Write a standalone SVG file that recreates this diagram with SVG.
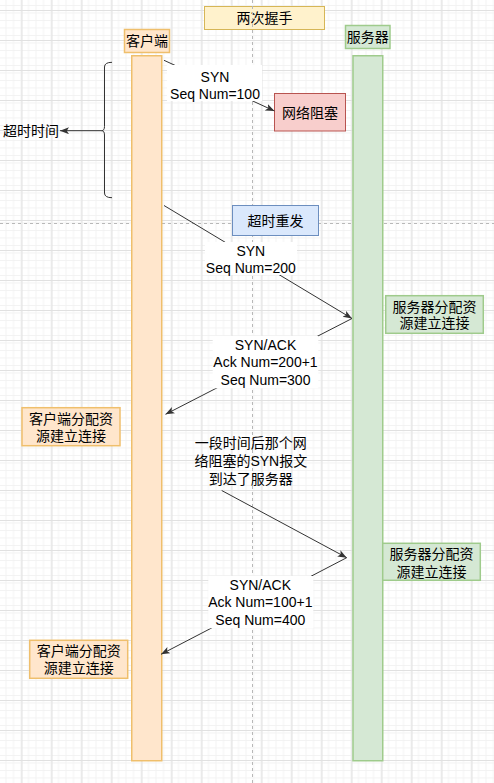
<svg xmlns="http://www.w3.org/2000/svg" width="494" height="783" viewBox="0 0 494 783">
<style>
  text { font-family: "Liberation Sans", "Noto Sans CJK SC", sans-serif; font-size: 14px; fill: #000; text-anchor: middle; dominant-baseline: central; }
  .edge { stroke: #333; stroke-width: 1; fill: none; }
  .orange { fill: #ffe6cc; stroke: #efbf6c; stroke-width: 1.5; }
  .green { fill: #d5e8d4; stroke: #9fcb8c; stroke-width: 1.5; }
  .yellow { fill: #fff2cc; stroke: #d6b656; stroke-width: 1; }
  .red { fill: #f8cecc; stroke: #b85450; stroke-width: 1; }
  .blue { fill: #dae8fc; stroke: #6c8ebf; stroke-width: 1; }
  .lbl { fill: #fff; stroke: none; }
  .page { stroke: #b8b8b8; stroke-width: 1; stroke-dasharray: 3 3; fill: none; }
</style>
<defs>
  <pattern id="minor" x="21.5" y="10" width="7.5" height="7.5" patternUnits="userSpaceOnUse">
    <path d="M0,0.5 H7.5 M0.5,0 V7.5" stroke="#f2f2f2" stroke-width="1" fill="none"/>
  </pattern>
  <pattern id="major" x="21.5" y="10" width="30" height="30" patternUnits="userSpaceOnUse">
    <rect width="30" height="30" fill="url(#minor)"/>
    <path d="M0,0.5 H30 M0.5,0 V30" stroke="#e1e1e1" stroke-width="1" fill="none"/>
  </pattern>
  <marker id="arr" markerUnits="userSpaceOnUse" markerWidth="10" markerHeight="8" refX="9" refY="3.5" orient="auto">
    <path d="M0,0 L9,3.5 L0,7 L2.2,3.5 z" fill="#333"/>
  </marker>
</defs>
<rect width="494" height="783" fill="#fff"/>
<rect width="494" height="783" fill="url(#major)"/>

<g id="title">
  <rect class="yellow" x="204.5" y="6.5" width="120" height="23"/>
  <text x="264.5" y="18">两次握手</text>
</g>

<g id="page-lines">
  <line class="page" x1="252.5" y1="0" x2="252.5" y2="783"/>
  <line class="page" x1="0" y1="223.5" x2="494" y2="223.5"/>
</g>

<g id="client-head">
  <rect class="orange" x="124.5" y="29.5" width="45" height="23"/>
  <text x="147" y="41">客户端</text>
</g>
<g id="client-life">
  <rect class="orange" x="131.75" y="55.75" width="30" height="705"/>
</g>
<g id="server-head">
  <rect class="green" x="345.5" y="25.5" width="44.5" height="23"/>
  <text x="367.7" y="37">服务器</text>
</g>
<g id="server-life">
  <rect class="green" x="353" y="55.75" width="29.75" height="705"/>
</g>

<g id="blocked">
  <rect class="red" x="274.5" y="93.5" width="71" height="37.5"/>
  <text x="310" y="112.5">网络阻塞</text>
</g>
<g id="retransmit">
  <rect class="blue" x="232.5" y="205.5" width="86" height="30"/>
  <text x="275.5" y="220.5">超时重发</text>
</g>

<g id="brace">
  <path class="edge" d="M112,62.3 Q104.5,62.3 104.5,67 V126.5 Q104.5,130.7 101.5,130.7 Q104.5,130.7 104.5,135 V193 Q104.5,197.7 112,197.7"/>
</g>
<g id="timeout-label">
  <text x="31" y="131">超时时间</text>
</g>

<g id="server-alloc-1">
  <rect class="green" x="385.7" y="295.7" width="97.6" height="37.6"/>
  <text x="434.5" y="306.7">服务器分配资</text>
  <text x="434.5" y="323.3">源建立连接</text>
</g>
<g id="client-alloc-1">
  <rect class="orange" x="22" y="407.7" width="98" height="38"/>
  <text x="71" y="419.3">客户端分配资</text>
  <text x="71" y="435.7">源建立连接</text>
</g>
<g id="server-alloc-2">
  <rect class="green" x="382.7" y="543.3" width="97.6" height="37"/>
  <text x="431.5" y="554">服务器分配资</text>
  <text x="431.5" y="571.7">源建立连接</text>
</g>
<g id="client-alloc-2">
  <rect class="orange" x="29.7" y="640.3" width="98" height="38"/>
  <text x="78.7" y="651">客户端分配资</text>
  <text x="78.7" y="668.3">源建立连接</text>
</g>

<g id="connectors">
  <line class="edge" x1="101.5" y1="130.7" x2="60" y2="130.7" marker-end="url(#arr)"/>
  <line class="edge" x1="164" y1="60.3" x2="274.5" y2="111" marker-end="url(#arr)"/>
  <line class="edge" x1="164" y1="205.5" x2="352" y2="318.5" marker-end="url(#arr)"/>
  <line class="edge" x1="352" y1="318.5" x2="165.5" y2="414.3" marker-end="url(#arr)"/>
  <line class="edge" x1="221.7" y1="490.5" x2="346.7" y2="557.7" marker-end="url(#arr)"/>
  <line class="edge" x1="346.7" y1="557.7" x2="161" y2="654.3" marker-end="url(#arr)"/>

  <rect class="lbl" x="167" y="65" width="95" height="36"/>
  <text x="215" y="77.3">SYN</text>
  <text x="215" y="93.8">Seq Num=100</text>

  <rect class="lbl" x="205" y="242" width="92" height="33"/>
  <text x="250.8" y="251">SYN</text>
  <text x="250.8" y="268.3">Seq Num=200</text>

  <rect class="lbl" x="212.7" y="336" width="105.6" height="52.3"/>
  <text x="265.5" y="345">SYN/ACK</text>
  <text x="265.5" y="362.3">Ack Num=200+1</text>
  <text x="265.5" y="380">Seq Num=300</text>

  <text x="250.8" y="443.3">一段时间后那个网</text>
  <text x="250.8" y="461.2">络阻塞的SYN报文</text>
  <text x="250.8" y="478.5">到达了服务器</text>

  <rect class="lbl" x="208.3" y="576" width="105" height="52.3"/>
  <text x="260.3" y="585">SYN/ACK</text>
  <text x="260.3" y="602.3">Ack Num=100+1</text>
  <text x="260.3" y="620">Seq Num=400</text>
</g>
</svg>
